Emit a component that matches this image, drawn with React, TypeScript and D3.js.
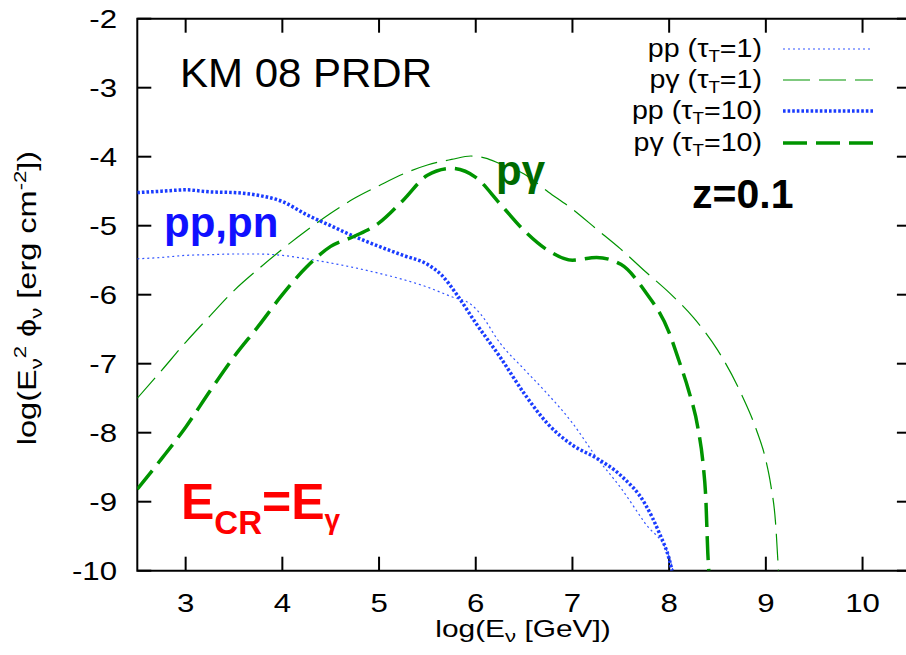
import React, { useEffect, useRef } from "react";
import * as d3 from "d3";

const W = 906;
const H = 655;

const xTicks = [3, 4, 5, 6, 7, 8, 9, 10];
const yTicks = [-2, -3, -4, -5, -6, -7, -8, -9, -10];

// pp, tau_T = 1 (thin dotted blue)
const ppTau1: [number, number][] = [
  [2.5, -5.48], [2.75, -5.46], [3.0, -5.43], [3.25, -5.42], [3.5, -5.41], [3.75, -5.41],
  [4.0, -5.43], [4.25, -5.48], [4.5, -5.54], [4.75, -5.61], [5.0, -5.69], [5.25, -5.78],
  [5.5, -5.89], [5.75, -6.03], [5.95, -6.14], [6.05, -6.28], [6.25, -6.7], [6.5, -7.08],
  [6.75, -7.45], [7.0, -7.86], [7.25, -8.36], [7.5, -8.8], [7.75, -9.31], [8.0, -9.8], [8.04, -10],
];

// p-gamma, tau_T = 1 (thin dashed green)
const pgTau1: [number, number][] = [
  [2.5, -7.5], [2.75, -7.1], [3.0, -6.69], [3.25, -6.31], [3.5, -5.94], [3.75, -5.63],
  [4.0, -5.34], [4.25, -5.07], [4.5, -4.82], [4.75, -4.6], [5.0, -4.42], [5.25, -4.25],
  [5.5, -4.12], [5.75, -4.04], [5.95, -3.99], [6.1, -4.02], [6.25, -4.1], [6.5, -4.25],
  [6.75, -4.51], [7.0, -4.76], [7.25, -5.05], [7.5, -5.34], [7.75, -5.66], [8.0, -5.97],
  [8.25, -6.33], [8.5, -6.8], [8.75, -7.45], [8.9, -7.95], [9.0, -8.4], [9.05, -8.75],
  [9.1, -9.3], [9.13, -10],
];

// pp, tau_T = 10 (thick dotted blue)
const ppTau10: [number, number][] = [
  [2.5, -4.52], [2.75, -4.5], [3.0, -4.48], [3.25, -4.51], [3.5, -4.52], [3.75, -4.56],
  [4.0, -4.65], [4.25, -4.84], [4.5, -5.0], [4.75, -5.16], [5.0, -5.3], [5.25, -5.43],
  [5.5, -5.56], [5.65, -5.72], [5.8, -5.99], [6.0, -6.41], [6.25, -6.9], [6.5, -7.43], [6.75, -7.88],
  [7.0, -8.18], [7.25, -8.37], [7.5, -8.62], [7.75, -9.03], [7.9, -9.46], [8.0, -9.83], [8.03, -10],
];

// p-gamma, tau_T = 10 (thick dashed green)
const pgTau10: [number, number][] = [
  [2.5, -8.82], [2.75, -8.38], [3.0, -7.92], [3.25, -7.4], [3.5, -6.9], [3.75, -6.46],
  [4.0, -6.0], [4.25, -5.6], [4.5, -5.3], [4.75, -5.15], [5.0, -4.96], [5.25, -4.63],
  [5.5, -4.27], [5.75, -4.17], [6.0, -4.3], [6.25, -4.68], [6.5, -5.07], [6.75, -5.36],
  [7.0, -5.5], [7.25, -5.46], [7.5, -5.56], [7.75, -5.95], [8.0, -6.55], [8.1, -6.95],
  [8.2, -7.38], [8.3, -7.95], [8.35, -8.44], [8.38, -8.98], [8.4, -9.75], [8.41, -10],
];

const legendLabels = ["1", "1", "10", "10"];

const BLUE = "#1a3cff";
const GREEN = "#009400";

type Part = { t: string; size?: number; off?: number };

const App = () => {
  const ref = useRef<SVGSVGElement>(null);

  useEffect(() => {
    const svg = d3.select(ref.current);
    svg.selectAll("*").remove();

    const x = d3.scaleLinear().domain([2.5, 10.5]).range([137.3, 910.9]);
    const y = d3.scaleLinear().domain([-10, -2]).range([570.7, 18.7]);
    const font = "'Liberation Sans', Arial, Helvetica, sans-serif";

    // text with sub/superscripts, stretched horizontally by sx
    const label = (
      tx: number, ty: number, parts: Part[], size: number,
      opts: { sx?: number; anchor?: string; fill?: string; weight?: string; rotate?: number } = {}
    ) => {
      const g = svg.append("g").attr(
        "transform",
        `translate(${tx},${ty}) rotate(${opts.rotate || 0}) scale(${opts.sx || 1},1)`
      );
      const t = g.append("text")
        .attr("text-anchor", opts.anchor || "start")
        .attr("font-family", font)
        .attr("font-size", size)
        .attr("font-weight", opts.weight || "normal")
        .attr("fill", opts.fill || "#000");
      let prev = 0;
      parts.forEach((p) => {
        const off = p.off || 0;
        t.append("tspan").attr("font-size", p.size || size).attr("dy", off - prev).text(p.t);
        prev = off;
      });
    };

    // frame and ticks
    const frame = svg.append("g").attr("stroke", "#000").attr("stroke-width", 2).attr("fill", "none");
    frame.append("path").attr("d", `M${x(10.5)},${y(-2)}H${x(2.5)}V${y(-10)}H${x(10.5)}V${y(-2)}`);
    xTicks.forEach((v) => {
      frame.append("line").attr("x1", x(v)).attr("x2", x(v)).attr("y1", y(-10)).attr("y2", y(-10) - 14);
      frame.append("line").attr("x1", x(v)).attr("x2", x(v)).attr("y1", y(-2)).attr("y2", y(-2) + 14);
    });
    yTicks.forEach((v) => {
      frame.append("line").attr("x1", x(2.5)).attr("x2", x(2.5) + 14).attr("y1", y(v)).attr("y2", y(v));
      frame.append("line").attr("x1", x(10.5)).attr("x2", x(10.5) - 14).attr("y1", y(v)).attr("y2", y(v));
    });

    xTicks.forEach((v) => label(x(v), 612, [{ t: String(v) }], 26, { anchor: "middle", sx: 1.2 }));
    yTicks.forEach((v) => label(117, y(v) + 9.5, [{ t: String(v) }], 26, { anchor: "end", sx: 1.2 }));

    label(523, 637, [{ t: "log(E" }, { t: "ν", size: 17, off: 5 }, { t: " [GeV])" }], 23, {
      anchor: "middle", sx: 1.3,
    });
    label(36, 298, [
      { t: "log(E" }, { t: "ν", size: 17, off: 6 }, { t: "2", size: 17, off: -10 },
      { t: " ϕ" }, { t: "ν", size: 17, off: 6 }, { t: " [erg cm" }, { t: "-2", size: 17, off: -10 },
      { t: "])" },
    ], 25, { anchor: "middle", sx: 1.3, rotate: -90 });

    // curves
    const clip = svg.append("clipPath").attr("id", "plotclip");
    clip.append("rect").attr("x", x(2.5)).attr("y", y(-2)).attr("width", x(10.5) - x(2.5)).attr("height", y(-10) - y(-2));
    const line = d3.line<[number, number]>().x((d) => x(d[0])).y((d) => y(d[1])).curve(d3.curveMonotoneX);

    const styles = [
      { data: ppTau1, color: "#3355ff", width: 1.2, dash: "2,3" },
      { data: pgTau1, color: GREEN, width: 1.2, dash: "27,9" },
      { data: ppTau10, color: BLUE, width: 3.5, dash: "2.6,2" },
      { data: pgTau10, color: GREEN, width: 3.5, dash: "24,9" },
    ];
    const plot = svg.append("g").attr("clip-path", "url(#plotclip)");
    styles.forEach((s) => {
      plot.append("path").datum(s.data).attr("d", line).attr("fill", "none")
        .attr("stroke", s.color).attr("stroke-width", s.width).attr("stroke-dasharray", s.dash);
    });

    // legend
    const legY = [49, 80, 111, 143];
    styles.forEach((s, i) => {
      svg.append("line").attr("x1", 783).attr("x2", 873).attr("y1", legY[i]).attr("y2", legY[i])
        .attr("stroke", s.color).attr("stroke-width", s.width).attr("stroke-dasharray", s.dash);
      label(762, legY[i] + 8, [
        { t: i % 2 === 0 ? "pp (τ" : "pγ (τ" }, { t: "T", size: 17, off: 5 }, { t: `=${legendLabels[i]})` },
      ], 26, { anchor: "end", sx: 1.1 });
    });

    // annotations
    label(180, 87, [{ t: "KM 08 PRDR" }], 40, { sx: 1.05 });
    label(164, 237, [{ t: "pp,pn" }], 42, { weight: "bold", fill: "#1010ff" });
    label(496, 185, [{ t: "pγ" }], 42, { weight: "bold", fill: "#006a00" });
    label(692, 208, [{ t: "z=0.1" }], 41, { weight: "bold" });
    label(181, 519, [
      { t: "E" }, { t: "CR", size: 33, off: 15 }, { t: "=" }, { t: "E" }, { t: "γ", size: 28, off: 10 },
    ], 50, { weight: "bold", fill: "#ff0000" });
  }, []);

  return (
    <svg ref={ref} width={W} height={H} style={{ position: "absolute", left: 0, top: 0, background: "#fff" }} />
  );
};

export default App;
